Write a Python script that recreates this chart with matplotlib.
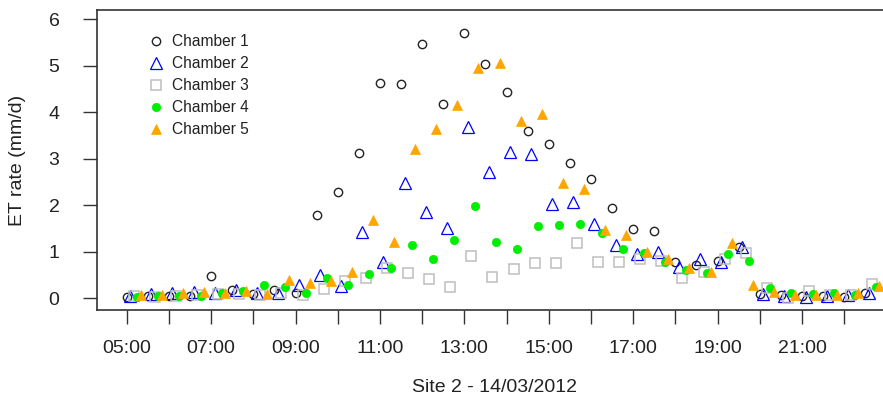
import numpy as np
import matplotlib
matplotlib.use("Agg")
import matplotlib.pyplot as plt

plt.rcParams['font.family'] = ['Liberation Sans', 'DejaVu Sans']

# sampling: every 30 min from 05:00, chambers measured in sequence
start_hour = 5.0
interval_min = 30
n_samples = 36
chamber_offsets_min = [0, 5, 10, 15, 20]

chamber1 = [0.03, 0.05, 0.05, 0.05, 0.48, 0.17, 0.08, 0.17, 0.10, 1.78,
            2.29, 3.11, 4.63, 4.60, 5.47, 4.17, 5.70, 5.04, 4.42, 3.59,
            3.31, 2.90, 2.57, 1.93, 1.48, 1.45, 0.77, 0.70, 0.80, 1.10,
            0.08, 0.06, 0.04, 0.05, 0.03, 0.10]
chamber2 = [0.05, 0.08, 0.10, 0.12, 0.11, 0.18, 0.10, 0.11, 0.29, 0.50,
            0.25, 1.42, 0.78, 2.48, 1.84, 1.50, 3.68, 2.72, 3.13, 3.10,
            2.02, 2.07, 1.60, 1.14, 0.95, 1.00, 0.66, 0.83, 0.78, 1.10,
            0.08, 0.05, 0.03, 0.05, 0.06, 0.11]
chamber3 = [0.04, 0.03, 0.05, 0.06, 0.08, 0.09, 0.06, 0.11, 0.07, 0.19,
            0.37, 0.44, 0.64, 0.54, 0.40, 0.23, 0.90, 0.46, 0.62, 0.76,
            0.76, 1.18, 0.78, 0.77, 0.83, 0.79, 0.44, 0.57, 0.83, 0.96,
            0.21, 0.01, 0.16, 0.06, 0.06, 0.30]
chamber4 = [0.03, 0.04, 0.05, 0.05, 0.10, 0.16, 0.28, 0.23, 0.10, 0.42,
            0.28, 0.51, 0.64, 1.14, 0.84, 1.25, 1.98, 1.20, 1.05, 1.55,
            1.57, 1.60, 1.40, 1.05, 0.96, 0.77, 0.60, 0.53, 0.95, 0.80,
            0.22, 0.10, 0.09, 0.10, 0.06, 0.24]
chamber5 = [0.06, 0.06, 0.10, 0.13, 0.10, 0.15, 0.09, 0.38, 0.33, 0.37,
            0.57, 1.68, 1.20, 3.20, 3.63, 4.16, 4.95, 5.06, 3.81, 3.96,
            2.47, 2.34, 1.46, 1.35, 1.00, 0.83, 0.65, 0.55, 1.19, 0.27,
            0.12, 0.06, 0.07, 0.07, 0.10, 0.26]

labels = ["Chamber 1", "Chamber 2", "Chamber 3", "Chamber 4", "Chamber 5"]
tick_hours = list(range(5, 23))
tick_labels = ["05:00", "", "07:00", "", "09:00", "", "11:00", "", "13:00", "",
               "15:00", "", "17:00", "", "19:00", "", "21:00", ""]

W, H = 883, 403
fig = plt.figure(figsize=(W / 100, H / 100), dpi=100)
ax = fig.add_axes([97 / W, (H - 310) / H, (886 - 97) / W, 300 / H])

base = start_hour + np.arange(n_samples) * interval_min / 60.0
series = [chamber1, chamber2, chamber3, chamber4, chamber5]
styles = [
    dict(marker='o', mfc='none', mec='#222222', ms=6.0, mew=1.0),
    dict(marker='^', mfc='none', mec='#0000FF', ms=8.5, mew=0.9),
    dict(marker='s', mfc='none', mec='#BEBEBE', ms=6.5, mew=1.1),
    dict(marker='o', mfc='#00EE00', mec='#00EE00', ms=6.0, mew=0.5),
    dict(marker='^', mfc='#FFA500', mec='#FFA500', ms=7.5, mew=0.5),
]
for vals, off, st, lab in zip(series, chamber_offsets_min, styles, labels):
    ax.plot(base + off / 60.0, vals, linestyle='none', label=lab, **st)

ax.set_xlim(4.296, 22.99)
ax.set_ylim(-0.258, 6.194)
ax.set_xticks(tick_hours)
ax.set_xticklabels(tick_labels)
ax.set_yticks(range(0, 7))
ax.tick_params(axis='both', labelsize=14, length=10, width=1.0, color='#333333',
               labelcolor='#222222')
ax.tick_params(axis='x', pad=11.5)
ax.tick_params(axis='y', pad=17)
for sp in ax.spines.values():
    sp.set_color('#333333')
    sp.set_linewidth(1.2)

fig.text(18 / W, 1 - 160 / H, "ET rate (mm/d)", rotation=90, ha='center', va='center',
         fontsize=14, color='#222222')
fig.text(495 / W, 1 - 388 / H, "Site 2 - 14/03/2012", ha='center', va='center',
         fontsize=14, color='#222222')

leg = ax.legend(loc='upper left', bbox_to_anchor=(148 / W, 1 - 34 / H),
                bbox_transform=fig.transFigure, frameon=False, fontsize=11.2,
                handlelength=1.0, handletextpad=0.55, labelspacing=0.45,
                borderpad=0, borderaxespad=0)
for t in leg.get_texts():
    t.set_color('#222222')

fig.savefig("out.png", dpi=100)
